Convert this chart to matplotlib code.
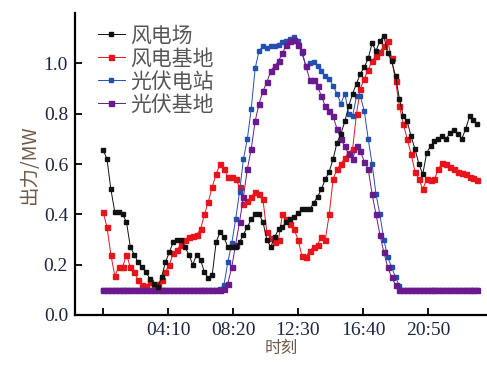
import numpy as np
import matplotlib
matplotlib.use('Agg')
import matplotlib.pyplot as plt

plt.rcParams['font.family'] = ['Noto Sans CJK SC', 'DejaVu Sans']

# 15 分钟一个点, 00:00 - 24:00
minutes = np.arange(97) * 15

wind_farm = [0.657, 0.62, 0.50, 0.41, 0.41, 0.40, 0.37, 0.27, 0.24, 0.21,
             0.19, 0.17, 0.145, 0.125, 0.11, 0.15, 0.21, 0.25, 0.29, 0.30,
             0.30, 0.27, 0.24, 0.20, 0.24, 0.22, 0.17, 0.147, 0.16, 0.29,
             0.33, 0.31, 0.27, 0.27, 0.27, 0.29, 0.32, 0.35, 0.38, 0.40,
             0.40, 0.37, 0.30, 0.27, 0.31, 0.34, 0.35, 0.37, 0.38, 0.39,
             0.405, 0.42, 0.42, 0.42, 0.445, 0.47, 0.50, 0.54, 0.57, 0.62,
             0.685, 0.72, 0.77, 0.83, 0.88, 0.92, 0.96, 0.985, 1.02, 1.08,
             1.05, 1.09, 1.11, 1.04, 1.01, 0.95, 0.86, 0.79, 0.77, 0.71,
             0.66, 0.60, 0.56, 0.645, 0.67, 0.69, 0.70, 0.71, 0.70, 0.725,
             0.735, 0.72, 0.70, 0.74, 0.79, 0.775, 0.76]

wind_base = [0.41, 0.35, 0.24, 0.155, 0.19, 0.19, 0.24, 0.19, 0.17, 0.14,
             0.12, 0.115, 0.13, 0.12, 0.125, 0.14, 0.17, 0.20, 0.245, 0.26,
             0.28, 0.30, 0.31, 0.315, 0.32, 0.34, 0.40, 0.45, 0.51, 0.56,
             0.60, 0.58, 0.55, 0.55, 0.54, 0.51, 0.44, 0.455, 0.47, 0.49,
             0.48, 0.46, 0.33, 0.305, 0.29, 0.30, 0.40, 0.38, 0.36, 0.34,
             0.30, 0.235, 0.23, 0.255, 0.27, 0.28, 0.31, 0.30, 0.40, 0.54,
             0.58, 0.60, 0.625, 0.645, 0.66, 0.80, 0.90, 0.94, 0.975, 1.01,
             1.03, 1.045, 1.07, 1.09, 1.02, 0.93, 0.83, 0.76, 0.70, 0.64,
             0.57, 0.54, 0.50, 0.54, 0.535, 0.54, 0.58, 0.605, 0.60, 0.59,
             0.58, 0.57, 0.565, 0.56, 0.55, 0.545, 0.535]

pv_station = [0.1] * 30 + [
    0.105, 0.12, 0.21, 0.285, 0.38, 0.49, 0.62, 0.70, 0.82, 0.98,
    1.05, 1.07, 1.062, 1.068, 1.07, 1.075, 1.085, 1.09, 1.096, 1.105,
    1.09, 1.04, 0.99, 1.00, 1.005, 0.99, 0.97, 0.95, 0.94, 0.91,
    0.88, 0.84, 0.88, 0.80, 0.79, 0.87, 0.87, 0.81, 0.70, 0.60,
    0.48, 0.40, 0.30, 0.23, 0.19, 0.15, 0.115] + [0.1] * 20

pv_base = [0.1] * 31 + [
    0.105, 0.125, 0.19, 0.28, 0.37, 0.47, 0.58, 0.66, 0.77,
    0.84, 0.89, 0.925, 0.97, 0.99, 1.01, 1.04, 1.075, 1.09, 1.095,
    1.075, 1.05, 0.99, 0.936, 0.936, 0.91, 0.87, 0.83, 0.81, 0.79,
    0.74, 0.70, 0.67, 0.64, 0.62, 0.67, 0.65, 0.61, 0.58, 0.48,
    0.40, 0.32, 0.25, 0.19, 0.15, 0.12] + [0.1] * 21

xtick_pos = [0, 250, 500, 750, 1000, 1250]
xtick_lab = ['', '04:10', '08:20', '12:30', '16:40', '20:50']
ytick_pos = [0.0, 0.2, 0.4, 0.6, 0.8, 1.0]

fig = plt.figure(figsize=(4.87, 3.65), dpi=100)
ax = fig.add_axes([0.154, 0.137, 0.846, 0.827])

ax.plot(minutes, wind_farm, color='#111111', lw=0.7, marker='s', ms=2.2,
        label='风电场', zorder=3)
ax.plot(minutes, wind_base, color='#e8141c', lw=0.7, marker='s', ms=3.6,
        label='风电基地', zorder=2)
ax.plot(minutes, pv_station, color='#2350b0', lw=0.7, marker='s', ms=3.3,
        label='光伏电站', zorder=2)
ax.plot(minutes, pv_base, color='#6a1a8c', lw=0.7, marker='s', ms=3.6,
        label='光伏基地', zorder=2)

ax.set_xlim(-108, 1477)
ax.set_ylim(0, 1.2)
ax.set_xticks(xtick_pos)
ax.set_xticklabels(xtick_lab)
ax.set_yticks(ytick_pos)
ax.set_yticklabels([f'{v:.1f}' for v in ytick_pos])

for lab in ax.get_xticklabels() + ax.get_yticklabels():
    lab.set_family('Liberation Serif')
    lab.set_fontsize(14)
    lab.set_color('#1c2541')

ax.tick_params(direction='in', length=5, width=1.3, pad=5)
ax.spines['top'].set_visible(False)
ax.spines['right'].set_visible(False)
ax.spines['left'].set_linewidth(1.6)
ax.spines['bottom'].set_linewidth(1.6)

ax.set_xlabel('时刻', fontsize=12, color='#6e5a46', labelpad=1)
ax.set_ylabel('出力/MW', fontsize=14, color='#6e5a46', labelpad=3,
              family=['Noto Sans CJK SC', 'Liberation Serif'])

leg = ax.legend(loc='upper left', bbox_to_anchor=(0.035, 0.99), frameon=False,
                fontsize=15, handlelength=1.3, handletextpad=0.25,
                labelspacing=0.05, borderaxespad=0)
for t in leg.get_texts():
    t.set_color('#555555')

fig.savefig('out.png', dpi=100)
